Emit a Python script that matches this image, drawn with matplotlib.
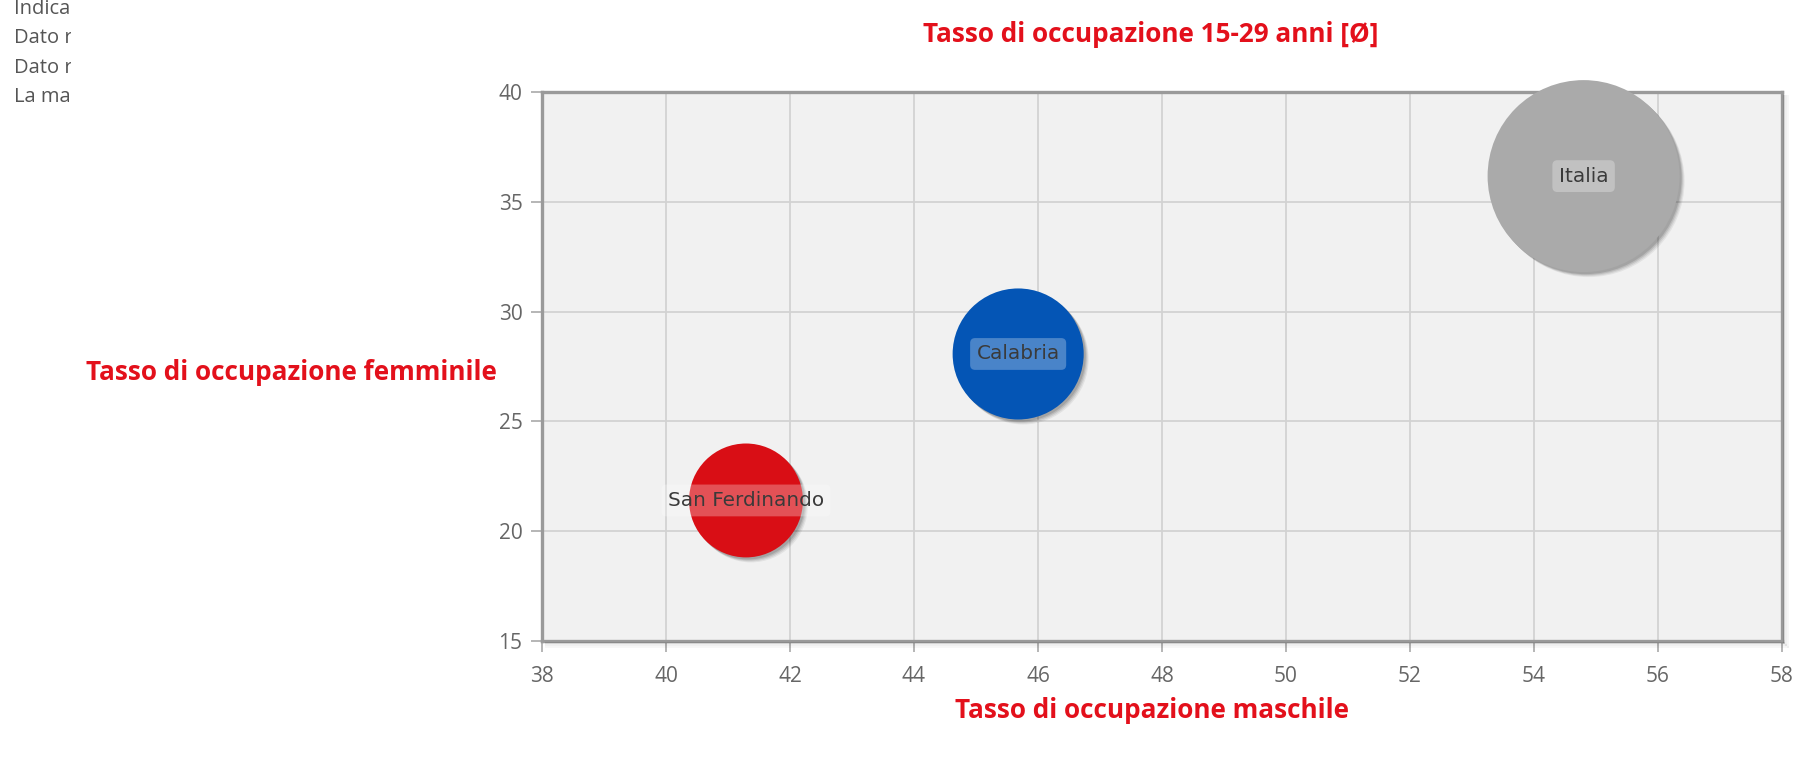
import matplotlib
matplotlib.use("Agg")
import matplotlib.pyplot as plt
import matplotlib.transforms as mtransforms
from matplotlib.lines import Line2D
import numpy as np

# ---- data ----
names = ["San Ferdinando", "Calabria", "Italia"]
x_male = [41.29, 45.68, 54.80]
y_female = [21.40, 28.07, 36.17]
bubble_z = [35.2, 46.6, 100.0]
colors = ["#d90e15", "#0455b5", "#aaaaaa"]
x_ticks = [38, 40, 42, 44, 46, 48, 50, 52, 54, 56, 58]
y_ticks = [15, 20, 25, 30, 35, 40]
title = "Tasso di occupazione 15-29 anni [Ø]"
x_label = "Tasso di occupazione maschile"
y_label = "Tasso di occupazione femminile"
side_notes = ["Indica", "Dato r", "Dato r", "La ma"]

W, H = 1799, 763
DPI = 100
fig = plt.figure(figsize=(W / DPI, H / DPI), dpi=DPI)
fig.patch.set_facecolor("white")

L, R, T, B = 542, 1782, 92, 641
ax = fig.add_axes([L / W, 1 - B / H, (R - L) / W, (B - T) / H])
ax.set_facecolor("#f1f1f1")
ax.set_xlim(38, 58)
ax.set_ylim(15, 40)
ax.set_xticks(x_ticks)
ax.set_yticks(y_ticks)
ax.set_xticklabels([str(v) for v in x_ticks])
ax.set_yticklabels([str(v) for v in y_ticks])
ax.grid(True, color="#d2d2d2", linewidth=1.3, zorder=0)
ax.set_axisbelow(True)
for s in ax.spines.values():
    s.set_color("#9a9a9a")
    s.set_linewidth(2.4)
ax.tick_params(axis="both", direction="out", length=8, width=1.3, color="#b0b0b0",
               labelcolor="#666666", labelsize=15)
ax.tick_params(axis="x", pad=10)
ax.tick_params(axis="y", pad=6)
for lab in ax.get_xticklabels() + ax.get_yticklabels():
    lab.set_fontfamily("Open Sans")

# soft shadow of the plot frame (right and bottom)
for off, a in [(2, 0.10), (4, 0.06), (6, 0.03)]:
    fig.add_artist(Line2D([(R + off) / W, (R + off) / W], [1 - (T + 4) / H, 1 - (B + off) / H],
                          color="black", alpha=a, linewidth=1.5, transform=fig.transFigure))
    fig.add_artist(Line2D([(L + 4) / W, (R + off) / W], [1 - (B + off) / H, 1 - (B + off) / H],
                          color="black", alpha=a, linewidth=1.5, transform=fig.transFigure))

# bubbles
max_d_px = 192
diam_pt = [max_d_px * np.sqrt(z / max(bubble_z)) * 72 / DPI for z in bubble_z]
sizes = [d ** 2 for d in diam_pt]
for dx, dy, a in [(5, -5, 0.06), (4, -4, 0.08), (3, -3, 0.10), (2, -2, 0.12)]:
    tr = mtransforms.offset_copy(ax.transData, fig=fig, x=dx, y=dy, units="dots")
    ax.scatter(x_male, y_female, s=sizes, c="#000000", alpha=a, linewidths=0,
               transform=tr, clip_on=False, zorder=4)
ax.scatter(x_male, y_female, s=sizes, c=colors, linewidths=0, clip_on=False, zorder=5)

for xv, yv, nm in zip(x_male, y_female, names):
    ax.text(xv, yv, nm, ha="center", va="center", fontsize=14.4, color="#3a3a3a",
            family="DejaVu Sans", zorder=6,
            bbox=dict(boxstyle="round,pad=0.32,rounding_size=0.25", fc=(1, 1, 1, 0.28),
                      ec="none"))

red = "#e3101b"
fs_lab = 18.8
fig.text(1151 / W, 1 - 34 / H, title, ha="center", va="center", fontsize=fs_lab,
         fontweight="bold", color=red, family="Open Sans")
fig.text(1152 / W, 1 - 711 / H, x_label, ha="center", va="center", fontsize=fs_lab,
         fontweight="bold", color=red, family="Open Sans")
fig.text(497 / W, 1 - 373 / H, y_label, ha="right", va="center", fontsize=fs_lab,
         fontweight="bold", color=red, family="Open Sans")

# clipped side notes
nax = fig.add_axes([0, 1 - 115 / H, 71 / W, 115 / H])
nax.set_xlim(0, 71)
nax.set_ylim(115, 0)
nax.axis("off")
for i, t in enumerate(side_notes):
    nax.text(14, 9 + i * 29.3, t, ha="left", va="center", fontsize=14.5,
             color="#555555", family="Open Sans", clip_on=True)

fig.savefig("out.png", dpi=DPI)
